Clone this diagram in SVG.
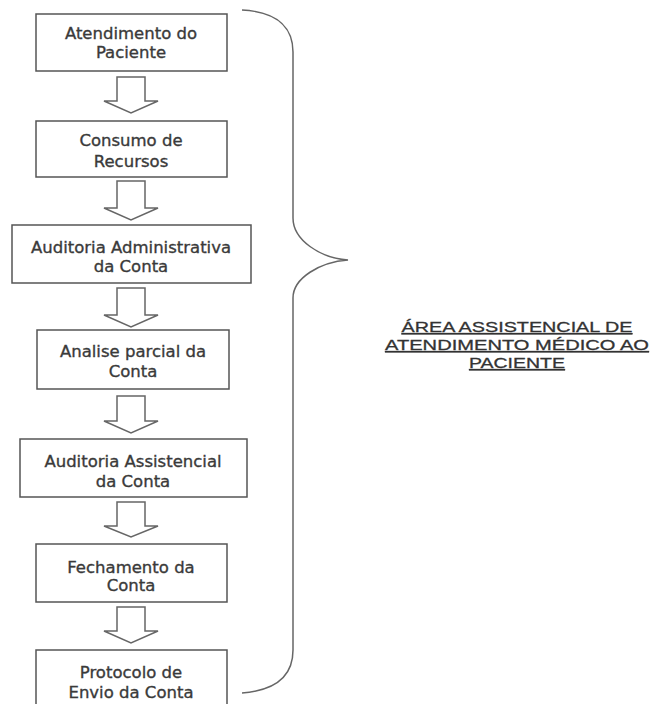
<svg xmlns="http://www.w3.org/2000/svg" width="650" height="704" viewBox="0 0 650 704">
<style>
.box{fill:#fff;stroke:#555;stroke-width:1.5}
.t{font-family:"DejaVu Sans",Verdana,sans-serif;font-size:16.5px;fill:#3a3a3a;stroke:#3a3a3a;stroke-width:0.35;text-anchor:middle}
.arr{fill:#fff;stroke:#666;stroke-width:1.5;stroke-linejoin:miter}
.brace{fill:none;stroke:#666;stroke-width:1.5}
.lbl{font-family:"Liberation Sans",Arial,sans-serif;font-size:15px;fill:#333;stroke:#333;stroke-width:0.3;text-anchor:middle;text-decoration:underline}
</style>
<rect width="650" height="704" fill="#fff"/>
<g id="connectors">
<path class="arr" d="M117,77 H145 V101 H158 L131,113 L104,101 H117 Z"/>
<path class="arr" d="M117,181 H145 V208 H158 L131,220 L104,208 H117 Z"/>
<path class="arr" d="M117,288 H145 V315 H158 L131,327 L104,315 H117 Z"/>
<path class="arr" d="M117,396 H145 V421 H158 L131,433 L104,421 H117 Z"/>
<path class="arr" d="M117,502 H145 V526 H158 L131,537 L104,526 H117 Z"/>
<path class="arr" d="M117,607 H145 V631 H158 L131,643 L104,631 H117 Z"/>
<path class="brace" d="M242,10 C280,12 293,30 293,52 V218 C293,240 320,258 348,260 C320,262 293,278 293,298 V650 C293,672 280,690 242,693"/>
</g>
<g id="n1"><rect class="box" x="36" y="14" width="191" height="57"/><text class="t" x="131" y="39">Atendimento do</text><text class="t" x="131" y="58">Paciente</text></g>
<g id="n2"><rect class="box" x="36" y="121" width="191" height="56"/><text class="t" x="131" y="146">Consumo de</text><text class="t" x="131" y="167">Recursos</text></g>
<g id="n3"><rect class="box" x="12" y="225" width="239" height="58"/><text class="t" x="131" y="253">Auditoria Administrativa</text><text class="t" x="131" y="272">da Conta</text></g>
<g id="n4"><rect class="box" x="37" y="330" width="192" height="59"/><text class="t" x="133" y="357">Analise parcial da</text><text class="t" x="133" y="377">Conta</text></g>
<g id="n5"><rect class="box" x="20" y="439" width="227" height="58"/><text class="t" x="133" y="467">Auditoria Assistencial</text><text class="t" x="133" y="487">da Conta</text></g>
<g id="n6"><rect class="box" x="36" y="544" width="191" height="58"/><text class="t" x="131" y="573">Fechamento da</text><text class="t" x="131" y="591">Conta</text></g>
<g id="n7"><rect class="box" x="36" y="650" width="191" height="60"/><text class="t" x="131" y="678">Protocolo de</text><text class="t" x="131" y="698">Envio da Conta</text></g>
<g id="label">
<text class="lbl" x="517" y="332" textLength="231" lengthAdjust="spacingAndGlyphs">ÁREA ASSISTENCIAL DE</text>
<text class="lbl" x="517" y="350" textLength="264" lengthAdjust="spacingAndGlyphs">ATENDIMENTO MÉDICO AO</text>
<text class="lbl" x="517" y="368" textLength="96" lengthAdjust="spacingAndGlyphs">PACIENTE</text>
</g>
</svg>
